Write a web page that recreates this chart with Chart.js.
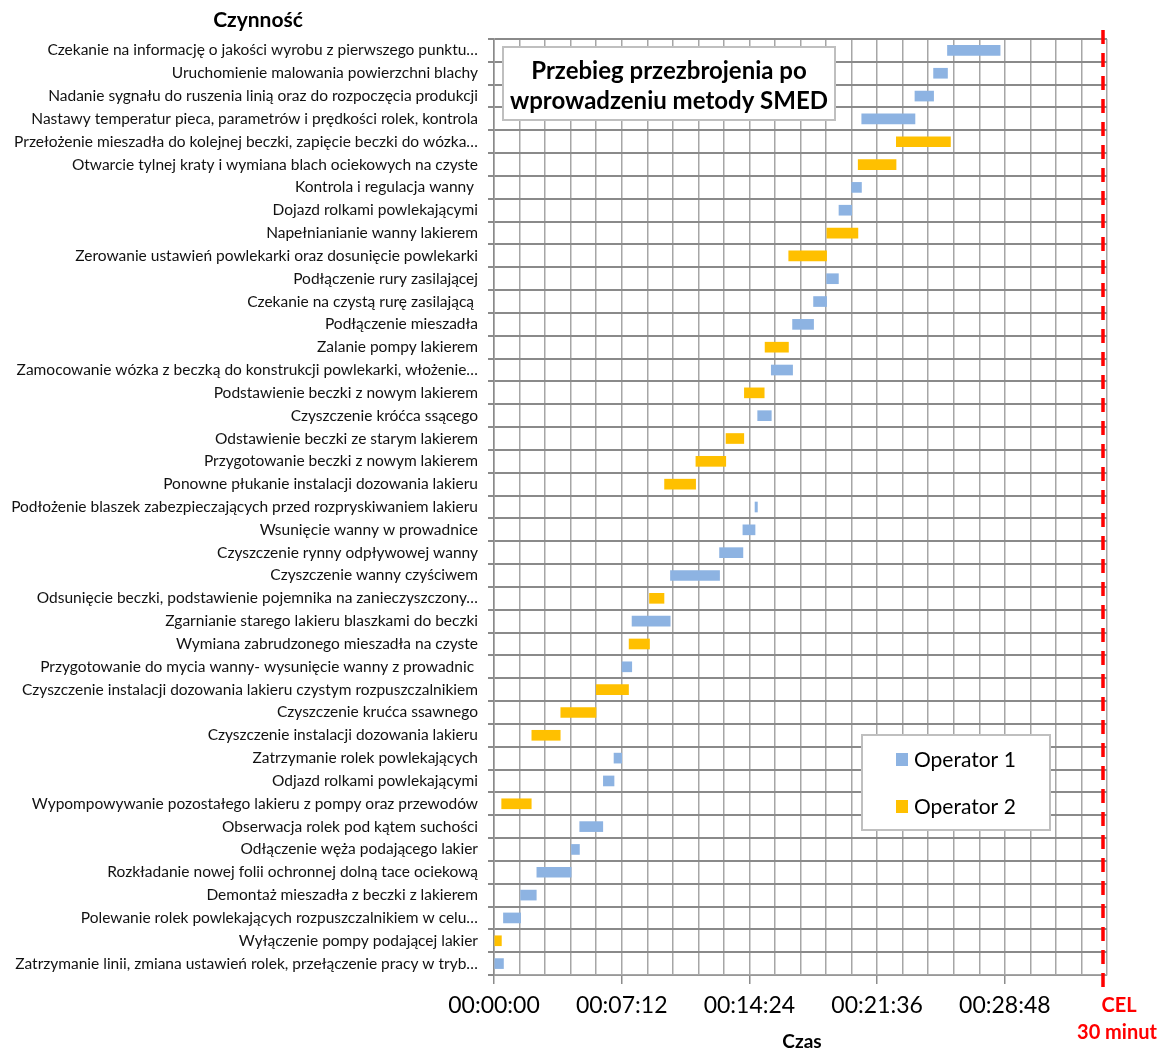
<!DOCTYPE html>
<html>
<head>
<meta charset="utf-8">
<script src="https://cdn.jsdelivr.net/npm/chart.js@4/dist/chart.umd.min.js"></script>
<style>
  html, body { margin: 0; padding: 0; background: #fff; }
  #wrap { width: 1163px; height: 1051px; position: relative; }
</style>
</head>
<body>
<div id="wrap"><canvas id="c"></canvas></div>
<script>
// Activities of the changeover, listed top to bottom
const activities = [
  "Czekanie na informację o jakości wyrobu z pierwszego punktu…",
  "Uruchomienie malowania powierzchni blachy",
  "Nadanie sygnału do ruszenia linią oraz do rozpoczęcia produkcji",
  "Nastawy temperatur pieca, parametrów i prędkości rolek, kontrola",
  "Przełożenie mieszadła do kolejnej beczki, zapięcie beczki do wózka…",
  "Otwarcie tylnej kraty i wymiana blach ociekowych na czyste",
  "Kontrola i regulacja wanny ",
  "Dojazd rolkami powlekającymi",
  "Napełnianianie wanny lakierem",
  "Zerowanie ustawień powlekarki oraz dosunięcie powlekarki",
  "Podłączenie rury zasilającej",
  "Czekanie na czystą rurę zasilającą ",
  "Podłączenie mieszadła",
  "Zalanie pompy lakierem",
  "Zamocowanie wózka z beczką do konstrukcji powlekarki, włożenie…",
  "Podstawienie beczki z nowym lakierem",
  "Czyszczenie króćca ssącego",
  "Odstawienie beczki ze starym lakierem",
  "Przygotowanie beczki z nowym lakierem",
  "Ponowne płukanie instalacji dozowania lakieru",
  "Podłożenie blaszek zabezpieczających przed rozpryskiwaniem lakieru",
  "Wsunięcie wanny w prowadnice",
  "Czyszczenie rynny odpływowej wanny",
  "Czyszczenie wanny czyściwem",
  "Odsunięcie beczki, podstawienie pojemnika na zanieczyszczony…",
  "Zgarnianie starego lakieru blaszkami do beczki",
  "Wymiana zabrudzonego mieszadła na czyste",
  "Przygotowanie do mycia wanny- wysunięcie wanny z prowadnic ",
  "Czyszczenie instalacji dozowania lakieru czystym rozpuszczalnikiem",
  "Czyszczenie krućca ssawnego",
  "Czyszczenie instalacji dozowania lakieru",
  "Zatrzymanie rolek powlekających",
  "Odjazd rolkami powlekającymi",
  "Wypompowywanie pozostałego lakieru z pompy oraz przewodów",
  "Obserwacja rolek pod kątem suchości",
  "Odłączenie węża podającego lakier",
  "Rozkładanie nowej folii ochronnej dolną tace ociekową",
  "Demontaż mieszadła z beczki z lakierem",
  "Polewanie rolek powlekających rozpuszczalnikiem w celu…",
  "Wyłączenie pompy podającej lakier",
  "Zatrzymanie linii, zmiana ustawień rolek, przełączenie pracy w tryb…"
];

// Which operator performs each activity (1 or 2)
const operatorOf = [
  1, 1, 1, 1, 2, 2, 1, 1, 2, 2,
  1, 1, 1, 2, 1, 2, 1, 2, 2, 2,
  1, 1, 1, 1, 2, 1, 2, 1, 2, 2,
  2, 1, 1, 2, 1, 1, 1, 1, 1, 2,
  1
];

// Start and end of each activity, seconds from the line stop
const startSec = [
  1534, 1487, 1424, 1244, 1361, 1232, 1210, 1167, 1126, 997,
  1125, 1081, 1010, 917, 938, 847, 892, 785, 683, 577,
  883, 842, 763, 597, 526, 467, 457, 433, 346, 226,
  128, 406, 370, 26, 290, 262, 145, 90, 32, 0,
  0
];
const endSec = [
  1712, 1534, 1487, 1424, 1544, 1360, 1243, 1210, 1231, 1125,
  1165, 1125, 1081, 996, 1010, 914, 938, 845, 784, 682,
  891, 883, 842, 763, 575, 596, 526, 466, 455, 345,
  224, 432, 406, 126, 368, 289, 261, 143, 90, 25,
  32
];

const seriesNames = ["Operator 1", "Operator 2"];
const seriesColors = ["#8DB3E2", "#FFC000"];

// Time axis: minor grid every 86.4 s, labelled ticks every 432 s (00:07:12)
const axisMaxSec = 2073.6;
const minorStepSec = 86.4;
const majorStepSec = 432;

function hms(sec) {
  const s = Math.round(sec);
  const h = Math.floor(s / 3600), m = Math.floor((s % 3600) / 60), r = s % 60;
  const p = n => String(n).padStart(2, "0");
  return p(h) + ":" + p(m) + ":" + p(r);
}
function isMajor(v) {
  const q = v / majorStepSec;
  return Math.abs(q - Math.round(q)) < 1e-6;
}

const datasets = seriesNames.map((name, k) => ({
  label: name,
  data: activities.map((_, i) => operatorOf[i] === k + 1 ? [startSec[i], endSec[i]] : null),
  backgroundColor: seriesColors[k],
  borderWidth: 0,
  barThickness: 10,
  grouped: false
}));

const FONT = "Lato, 'Open Sans', sans-serif";

const overlay = {
  id: "overlay",
  afterDraw(chart) {
    const { ctx, chartArea: a } = chart;
    ctx.save();

    // target line
    const xT = a.right - 4;
    ctx.strokeStyle = "#FF0000";
    ctx.lineWidth = 3.5;
    ctx.setLineDash([14, 9]);
    ctx.beginPath();
    ctx.moveTo(xT, 30);
    ctx.lineTo(xT, 990);
    ctx.stroke();
    ctx.setLineDash([]);

    ctx.fillStyle = "#FF0000";
    ctx.textAlign = "center";
    ctx.textBaseline = "middle";
    ctx.font = "bold 20px " + FONT;
    ctx.fillText("CEL", 1119, 1006);
    ctx.fillText("30 minut", 1117, 1033);

    // axis titles
    ctx.fillStyle = "#000";
    ctx.font = "bold 21px " + FONT;
    ctx.fillText("Czynność", 258, 20);
    ctx.font = "bold 19px " + FONT;
    ctx.fillText("Czas", 802, 1042);

    // title box
    ctx.fillStyle = "#fff";
    ctx.fillRect(503, 47, 332, 73);
    ctx.strokeStyle = "#BFBFBF";
    ctx.lineWidth = 2;
    ctx.strokeRect(503, 47, 332, 73);
    ctx.fillStyle = "#000";
    ctx.font = "bold 24px " + FONT;
    ctx.fillText("Przebieg przezbrojenia po", 669, 71);
    ctx.fillText("wprowadzeniu metody SMED", 669, 101);

    // legend box
    ctx.fillStyle = "#fff";
    ctx.fillRect(862, 735, 188, 95);
    ctx.strokeStyle = "#BFBFBF";
    ctx.strokeRect(862, 735, 188, 95);
    ctx.textAlign = "left";
    ctx.font = "21px " + FONT;
    const rows = [759, 806];
    chart.data.datasets.forEach((ds, k) => {
      ctx.fillStyle = ds.backgroundColor;
      ctx.fillRect(896, rows[k] - 6, 12, 13);
      ctx.fillStyle = "#000";
      ctx.fillText(ds.label, 914, rows[k] + 1);
    });

    ctx.restore();
  }
};

new Chart(document.getElementById("c"), {
  type: "bar",
  data: { labels: activities, datasets },
  options: {
    indexAxis: "y",
    responsive: true,
    maintainAspectRatio: false,
    animation: false,
    layout: { padding: { left: 0, top: 39, right: 56, bottom: 0 } },
    plugins: { legend: { display: false }, tooltip: { enabled: false } },
    scales: {
      x: {
        type: "linear",
        min: 0,
        max: axisMaxSec,
        afterFit(scale) { scale.height = 76; },
        grid: {
          color: "#A6A6A6",
          lineWidth: 1.5,
          tickLength: 9,
          tickColor: ctx => isMajor(ctx.tick.value) ? "#8C8C8C" : "rgba(0,0,0,0)",
          tickWidth: 1.5
        },
        border: { color: "#A6A6A6", width: 1.5 },
        ticks: {
          stepSize: minorStepSec,
          autoSkip: false,
          maxRotation: 0,
          padding: 8,
          color: "#000",
          font: { family: FONT, size: 23 },
          callback: v => isMajor(v) ? hms(v) : ""
        }
      },
      y: {
        type: "category",
        afterFit(scale) { scale.width = 494; },
        grid: { color: "#8A8A8A", lineWidth: 2, tickLength: 6, offset: true },
        border: { color: "#8A8A8A", width: 1.5 },
        ticks: {
          autoSkip: false,
          padding: 10,
          color: "#111",
          font: { family: FONT, size: 15.5 }
        }
      }
    }
  },
  plugins: [overlay]
});
</script>
</body>
</html>
